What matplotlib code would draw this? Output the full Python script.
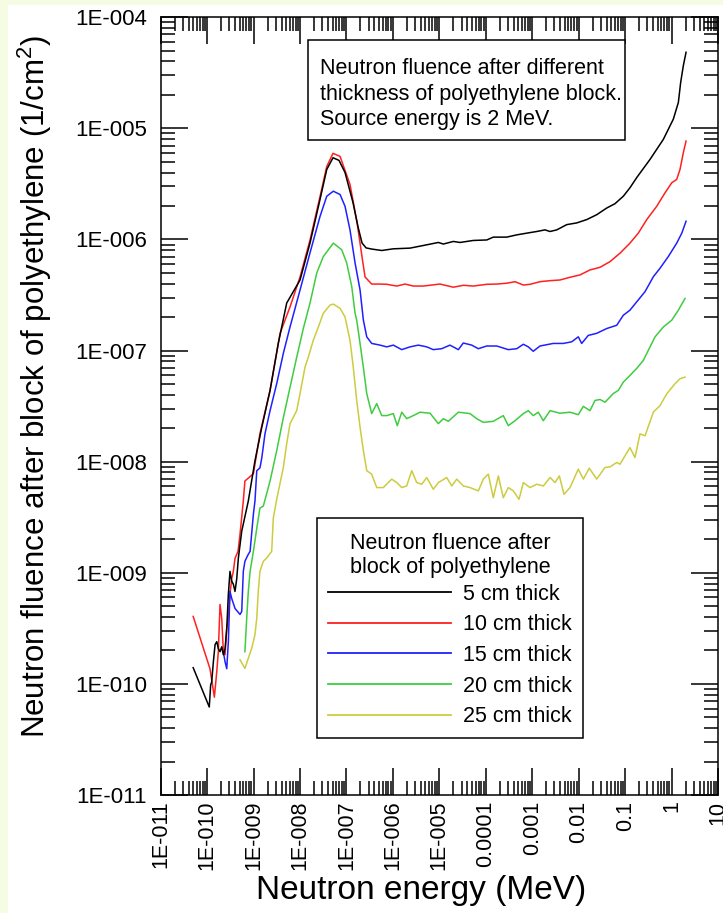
import matplotlib
matplotlib.use("Agg")
import matplotlib.pyplot as plt
from matplotlib.patches import Rectangle
from matplotlib.ticker import LogLocator, NullFormatter

plt.rcParams["font.family"] = ["Liberation Sans", "DejaVu Sans"]
plt.rcParams["mathtext.fontset"] = "custom"
plt.rcParams["mathtext.rm"] = "Liberation Sans"

# neutron energy (MeV) and fluence (1/cm2) behind each polyethylene block
e05 = [5.0e-11, 1.11e-10, 1.19e-10, 1.25e-10, 1.36e-10, 1.48e-10, 1.61e-10, 1.74e-10, 1.89e-10, 2.06e-10,
       2.23e-10, 2.43e-10, 2.64e-10, 2.86e-10, 3.10e-10, 3.38e-10, 3.66e-10, 3.98e-10, 4.34e-10, 4.69e-10,
       5.55e-10, 7.69e-10, 1.07e-9, 1.50e-9, 2.26e-9, 3.40e-9, 5.16e-9, 1.0e-8, 1.64e-8, 2.69e-8,
       3.76e-8, 5.13e-8, 6.90e-8, 9.3e-8, 1.38e-7, 1.77e-7, 2.16e-7, 2.64e-7, 3.49e-7, 5.74e-7,
       1.02e-6, 2.33e-6, 4.52e-6, 9.5e-6, 1.22e-5, 2.0e-5, 2.79e-5, 5.38e-5, 1.05e-4, 1.45e-4,
       2.82e-4, 4.63e-4, 7.6e-4, 1.25e-3, 1.88e-3, 2.42e-3, 3.37e-3, 5.52e-3, 9.1e-3, 1.49e-2,
       2.44e-2, 4.02e-2, 6.05e-2, 9.14e-2, 0.127, 0.178, 0.344, 0.665, 1.09, 1.40,
       1.57, 1.79, 2.05]
f05 = [1.4e-10, 6.2e-11, 9.8e-11, 1.04e-10, 1.58e-10, 2.26e-10, 2.40e-10, 2.08e-10, 1.95e-10, 2.16e-10,
       1.83e-10, 2.08e-10, 3.15e-10, 6.4e-10, 1.03e-9, 8.4e-10, 7.9e-10, 6.8e-10, 8.9e-10, 1.35e-9,
       2.37e-9, 4.43e-9, 1.02e-8, 2.04e-8, 4.38e-8, 1.16e-7, 2.68e-7, 4.32e-7, 9.3e-7, 2.29e-6,
       4.27e-6, 5.44e-6, 5.15e-6, 4.01e-6, 2.15e-6, 1.30e-6, 9.3e-7, 8.4e-7, 8.2e-7, 7.96e-7,
       8.24e-7, 8.36e-7, 8.83e-7, 9.4e-7, 9.1e-7, 9.6e-7, 9.4e-7, 9.8e-7, 9.9e-7, 1.05e-6,
       1.05e-6, 1.10e-6, 1.14e-6, 1.18e-6, 1.22e-6, 1.18e-6, 1.22e-6, 1.36e-6, 1.41e-6, 1.51e-6,
       1.67e-6, 1.92e-6, 2.10e-6, 2.45e-6, 2.92e-6, 3.61e-6, 5.26e-6, 7.96e-6, 1.21e-5, 1.71e-5,
       2.59e-5, 3.66e-5, 4.84e-5]

e10 = [5.0e-11, 1.15e-10, 1.43e-10, 1.61e-10, 1.74e-10, 1.89e-10, 2.06e-10, 2.23e-10, 2.43e-10, 2.64e-10,
       2.86e-10, 3.10e-10, 3.38e-10, 3.66e-10, 3.98e-10, 4.62e-10, 5.1e-10, 6.0e-10, 6.5e-10, 9.9e-10,
       1.37e-9, 2.26e-9, 3.71e-9, 6.08e-9, 1.0e-8, 1.64e-8, 2.69e-8, 3.76e-8, 5.13e-8, 7.26e-8,
       1.19e-7, 1.69e-7, 2.16e-7, 2.51e-7, 3.49e-7, 5.27e-7, 7.36e-7, 1.21e-6, 1.82e-6, 2.75e-6,
       4.52e-6, 1.03e-5, 2.0e-5, 3.28e-5, 5.38e-5, 1.05e-4, 1.72e-4, 2.82e-4, 4.26e-4, 6.43e-4,
       8.95e-4, 1.47e-3, 2.42e-3, 3.96e-3, 6.5e-3, 1.07e-2, 1.75e-2, 2.88e-2, 4.73e-2, 7.76e-2,
       0.127, 0.192, 0.292, 0.479, 0.723, 1.01, 1.29, 1.52, 1.79, 2.05]
f10 = [4.05e-10, 1.37e-10, 7.6e-11, 1.29e-10, 1.95e-10, 5.19e-10, 3.88e-10, 1.95e-10, 1.83e-10, 3.15e-10,
       3.88e-10, 6.4e-10, 8.9e-10, 1.03e-9, 1.35e-9, 1.56e-9, 2.23e-9, 4.43e-9, 6.7e-9, 7.8e-9,
       1.79e-8, 4.38e-8, 1.43e-7, 2.47e-7, 4.6e-7, 9.9e-7, 2.43e-6, 4.54e-6, 5.96e-6, 5.6e-6,
       3.13e-6, 1.42e-6, 6.98e-7, 4.6e-7, 3.97e-7, 3.97e-7, 3.95e-7, 3.81e-7, 3.97e-7, 3.81e-7,
       3.81e-7, 3.97e-7, 3.72e-7, 3.87e-7, 3.81e-7, 3.95e-7, 3.97e-7, 4.04e-7, 4.17e-7, 3.89e-7,
       3.95e-7, 4.17e-7, 4.26e-7, 4.32e-7, 4.57e-7, 4.8e-7, 5.32e-7, 5.62e-7, 6.32e-7, 7.53e-7,
       9.27e-7, 1.14e-6, 1.51e-6, 1.99e-6, 2.63e-6, 3.24e-6, 3.47e-6, 4.27e-6, 6.04e-6, 7.69e-6]

e15 = [2.23e-10, 2.43e-10, 2.64e-10, 2.86e-10, 3.10e-10, 3.38e-10, 3.98e-10, 5.1e-10, 5.55e-10, 6.0e-10,
       6.5e-10, 7.69e-10, 8.4e-10, 9.9e-10, 1.07e-9, 1.17e-9, 1.37e-9, 1.50e-9, 1.76e-9, 2.26e-9,
       3.15e-9, 4.37e-9, 6.08e-9, 1.0e-8, 1.64e-8, 2.69e-8, 3.76e-8, 5.21e-8, 7.26e-8, 9.3e-8,
       1.19e-7, 1.53e-7, 1.96e-7, 2.31e-7, 2.73e-7, 3.49e-7, 5.27e-7, 7.36e-7, 1.02e-6, 1.55e-6,
       2.33e-6, 3.52e-6, 5.35e-6, 7.41e-6, 1.12e-5, 1.69e-5, 2.56e-5, 3.28e-5, 4.98e-5, 6.9e-5,
       1.05e-4, 1.72e-4, 3.05e-4, 4.63e-4, 6.43e-4, 8.24e-4, 1.05e-3, 1.47e-3, 2.84e-3, 4.67e-3,
       7.08e-3, 9.8e-3, 1.16e-2, 1.61e-2, 2.44e-2, 4.02e-2, 6.59e-2, 9.14e-2, 0.127, 0.178,
       0.268, 0.405, 0.564, 0.851, 1.29, 1.66, 2.05]
f15 = [1.95e-10, 1.58e-10, 1.37e-10, 2.40e-10, 6.8e-10, 5.87e-10, 4.78e-10, 4.22e-10, 4.49e-10, 1.03e-9,
       1.27e-9, 1.47e-9, 1.56e-9, 3.38e-9, 4.43e-9, 8.3e-9, 8.8e-9, 1.08e-8, 1.79e-8, 2.88e-8,
       5.06e-8, 9.46e-8, 1.63e-7, 3.51e-7, 7.59e-7, 1.61e-6, 2.45e-6, 2.72e-6, 2.54e-6, 1.99e-6,
       1.22e-6, 6.15e-7, 3.51e-7, 1.88e-7, 1.33e-7, 1.16e-7, 1.12e-7, 1.08e-7, 1.12e-7, 1.02e-7,
       1.08e-7, 1.12e-7, 1.08e-7, 1.02e-7, 1.04e-7, 1.12e-7, 1.02e-7, 1.17e-7, 1.12e-7, 1.04e-7,
       1.10e-7, 1.10e-7, 1.02e-7, 1.04e-7, 1.14e-7, 1.08e-7, 9.86e-8, 1.10e-7, 1.16e-7, 1.16e-7,
       1.20e-7, 1.33e-7, 1.16e-7, 1.37e-7, 1.43e-7, 1.58e-7, 1.69e-7, 2.08e-7, 2.31e-7, 2.75e-7,
       3.39e-7, 4.62e-7, 5.51e-7, 7.02e-7, 9.27e-7, 1.14e-6, 1.46e-6]

e20 = [6.5e-10, 7.1e-10, 7.69e-10, 8.4e-10, 9.9e-10, 1.17e-9, 1.37e-9, 1.62e-9, 2.26e-9, 3.15e-9,
       4.37e-9, 6.08e-9, 8.47e-9, 1.18e-8, 1.64e-8, 2.29e-8, 3.17e-8, 5.21e-8, 7.91e-8, 1.01e-7,
       1.30e-7, 1.53e-7, 1.66e-7, 1.96e-7, 2.31e-7, 2.73e-7, 3.49e-7, 4.48e-7, 5.74e-7, 7.36e-7,
       1.02e-6, 1.24e-6, 1.55e-6, 1.98e-6, 2.75e-6, 3.84e-6, 6.3e-6, 9.5e-6, 1.22e-5, 1.56e-5,
       2.56e-5, 4.57e-5, 6.37e-5, 8.85e-5, 1.45e-4, 2.38e-4, 3.05e-4, 4.26e-4, 6.43e-4, 8.24e-4,
       1.05e-3, 1.35e-3, 1.73e-3, 2.42e-3, 3.96e-3, 6.5e-3, 9.8e-3, 1.26e-2, 1.75e-2, 2.25e-2,
       2.88e-2, 3.69e-2, 5.57e-2, 7.13e-2, 9.14e-2, 0.127, 0.178, 0.247, 0.344, 0.441,
       0.665, 1.01, 1.40, 1.95]
f20 = [1.95e-10, 3.88e-10, 6.8e-10, 1.03e-9, 1.56e-9, 2.52e-9, 3.83e-9, 3.99e-9, 6.7e-9, 1.26e-8,
       2.49e-8, 4.66e-8, 8.7e-8, 1.59e-7, 2.68e-7, 5.0e-7, 7.02e-7, 9.27e-7, 8.07e-7, 6.15e-7,
       3.76e-7, 2.17e-7, 1.88e-7, 1.16e-7, 7.06e-8, 4.11e-8, 2.71e-8, 3.33e-8, 2.60e-8, 2.60e-8,
       2.71e-8, 2.11e-8, 2.79e-8, 2.44e-8, 2.60e-8, 2.79e-8, 2.73e-8, 2.20e-8, 2.44e-8, 2.31e-8,
       2.79e-8, 2.71e-8, 2.44e-8, 2.26e-8, 2.31e-8, 2.60e-8, 2.11e-8, 2.34e-8, 2.71e-8, 2.88e-8,
       2.60e-8, 2.79e-8, 2.34e-8, 2.88e-8, 2.73e-8, 2.79e-8, 2.65e-8, 3.15e-8, 2.88e-8, 3.56e-8,
       3.63e-8, 3.43e-8, 4.11e-8, 4.38e-8, 5.2e-8, 5.98e-8, 6.92e-8, 8.17e-8, 1.08e-7, 1.33e-7,
       1.63e-7, 1.88e-7, 2.31e-7, 2.95e-7]

e25 = [5.1e-10, 6.5e-10, 7.69e-10, 9.1e-10, 1.07e-9, 1.17e-9, 1.26e-9, 1.37e-9, 1.62e-9, 1.92e-9,
       2.45e-9, 2.66e-9, 3.15e-9, 4.37e-9, 5.16e-9, 6.08e-9, 8.47e-9, 1.0e-8, 1.28e-8, 1.51e-8,
       1.93e-8, 2.48e-8, 3.17e-8, 4.43e-8, 5.21e-8, 7.26e-8, 9.3e-8, 1.19e-7, 1.40e-7, 1.66e-7,
       1.96e-7, 2.31e-7, 2.73e-7, 3.49e-7, 4.48e-7, 6.21e-7, 9.42e-7, 1.21e-6, 1.55e-6, 1.98e-6,
       2.54e-6, 3.25e-6, 4.17e-6, 5.35e-6, 7.41e-6, 9.5e-6, 1.44e-5, 1.85e-5, 2.37e-5, 3.28e-5,
       4.57e-5, 6.9e-5, 8.85e-5, 1.13e-4, 1.45e-4, 1.86e-4, 2.38e-4, 3.05e-4, 3.92e-4, 5.19e-4,
       6.43e-4, 8.95e-4, 1.25e-3, 1.73e-3, 2.42e-3, 3.1e-3, 3.83e-3, 4.83e-3, 6.5e-3, 9.8e-3,
       1.26e-2, 1.69e-2, 2.44e-2, 3.69e-2, 4.73e-2, 6.59e-2, 7.76e-2, 0.127, 0.163, 0.209,
       0.268, 0.405, 0.564, 0.787, 1.19, 1.52, 1.95]
f25 = [1.65e-10, 1.38e-10, 1.70e-10, 2.09e-10, 2.78e-10, 3.90e-10, 6.8e-10, 1.03e-9, 1.27e-9, 1.36e-9,
       1.56e-9, 3.13e-9, 4.62e-9, 8.87e-9, 1.45e-8, 2.20e-8, 2.88e-8, 4.11e-8, 7.1e-8, 8.75e-8,
       1.24e-7, 1.63e-7, 2.17e-7, 2.57e-7, 2.62e-7, 2.40e-7, 2.01e-7, 1.24e-7, 7.1e-8, 3.56e-8,
       2.04e-8, 1.26e-8, 8.3e-9, 7.73e-9, 5.85e-9, 5.85e-9, 6.97e-9, 6.49e-9, 5.85e-9, 6.05e-9,
       8.3e-9, 6.49e-9, 6.27e-9, 7.2e-9, 5.65e-9, 6.49e-9, 7.2e-9, 6.05e-9, 6.97e-9, 6.05e-9,
       5.85e-9, 5.46e-9, 6.97e-9, 7.73e-9, 4.74e-9, 7.45e-9, 4.74e-9, 5.85e-9, 5.46e-9, 4.59e-9,
       6.49e-9, 5.85e-9, 6.27e-9, 6.05e-9, 7.2e-9, 6.49e-9, 7.45e-9, 5.09e-9, 5.85e-9, 8.57e-9,
       6.97e-9, 8.75e-9, 6.97e-9, 8.87e-9, 8.99e-9, 9.84e-9, 9.5e-9, 1.34e-8, 1.09e-8, 1.78e-8,
       1.71e-8, 2.79e-8, 3.2e-8, 4.08e-8, 5.04e-8, 5.58e-8, 5.77e-8]

thickness = ["5 cm thick", "10 cm thick", "15 cm thick", "20 cm thick", "25 cm thick"]
colors = ["#000000", "#ff2020", "#2020ff", "#40cc40", "#cccc40"]

xticks = [1e-11, 1e-10, 1e-9, 1e-8, 1e-7, 1e-6, 1e-5, 1e-4, 1e-3, 1e-2, 1e-1, 1, 10]
xticklabels = ["1E-011", "1E-010", "1E-009", "1E-008", "1E-007", "1E-006", "1E-005",
               "0.0001", "0.001", "0.01", "0.1", "1", "10"]
yticks = [1e-11, 1e-10, 1e-9, 1e-8, 1e-7, 1e-6, 1e-5, 1e-4]
yticklabels = ["1E-011", "1E-010", "1E-009", "1E-008", "1E-007", "1E-006", "1E-005", "1E-004"]

fig = plt.figure(figsize=(7.23, 9.13), dpi=100, facecolor="white")
# pale page margin along the left and top edges
fig.patches.append(Rectangle((0, 0), 8 / 723, 1, transform=fig.transFigure,
                             facecolor="#f6fbe3", edgecolor="none", zorder=-5))
fig.patches.append(Rectangle((0, 1 - 5 / 913), 1, 5 / 913, transform=fig.transFigure,
                             facecolor="#f6fbe3", edgecolor="none", zorder=-5))

ax = fig.add_axes([0.2223, 0.1292, 0.7708, 0.8519])

series = [(e05, f05), (e10, f10), (e15, f15), (e20, f20), (e25, f25)]
for (e, f), lab, c in zip(series, thickness, colors):
    ax.plot(e, f, color=c, lw=1.1, label=lab, zorder=3 if c == "#000000" else 2)

ax.set_xscale("log")
ax.set_yscale("log")
ax.set_xlim(1e-11, 10)
ax.set_ylim(1e-11, 1e-4)

ax.set_xticks(xticks, xticklabels, rotation=90)
ax.set_yticks(yticks, yticklabels)
ax.xaxis.set_minor_locator(LogLocator(base=10, subs=range(2, 10), numticks=100))
ax.yaxis.set_minor_locator(LogLocator(base=10, subs=range(2, 10), numticks=100))
ax.xaxis.set_minor_formatter(NullFormatter())
ax.yaxis.set_minor_formatter(NullFormatter())

ax.tick_params(which="both", direction="in", top=True, right=True, width=1.1,
               color="black", labelcolor="black")
ax.tick_params(which="major", length=19.5)
ax.tick_params(which="minor", length=10)
ax.tick_params(axis="x", which="major", pad=4, labelsize=15.5)
ax.tick_params(axis="y", which="major", pad=10, labelsize=16)
for sp in ax.spines.values():
    sp.set_linewidth(1.1)

ax.set_xlabel("Neutron energy (MeV)", fontsize=24)
ax.xaxis.set_label_coords(0.467, -0.123)
ax.xaxis.label.set_va("center")
ax.set_ylabel(r"Neutron fluence after block of polyethylene (1/cm$^{\mathregular{2}}$)", fontsize=22.5)
ax.yaxis.set_label_coords(-0.225, 0.525)
ax.yaxis.label.set_va("center")

# note box in the upper part of the plot
ax.add_patch(Rectangle((0.2643, 0.8422), 0.5688, 0.1286, transform=ax.transAxes,
                       facecolor="white", edgecolor="black", lw=1.1, zorder=4))
ax.text(0.2853, 0.901, "Neutron fluence after different\nthickness of polyethylene block.\n"
        "Source energy is 2 MeV.", transform=ax.transAxes, fontsize=15.5,
        ha="left", va="center", linespacing=1.27, zorder=5)

leg = ax.legend(title="Neutron fluence after\nblock of polyethylene", loc="upper left",
                bbox_to_anchor=(0.2805, 0.3562), borderaxespad=0, fontsize=15.5,
                title_fontsize=15.5, frameon=True, fancybox=False, edgecolor="black",
                framealpha=1, handlelength=5.7, handletextpad=0.6, labelspacing=0.45,
                borderpad=0.5)
leg.get_frame().set_linewidth(1.1)
leg.get_title().set_position((0, -4))
for line in leg.get_lines():
    line.set_linewidth(1.3)

fig.savefig("out.png", dpi=100, facecolor=fig.get_facecolor())
